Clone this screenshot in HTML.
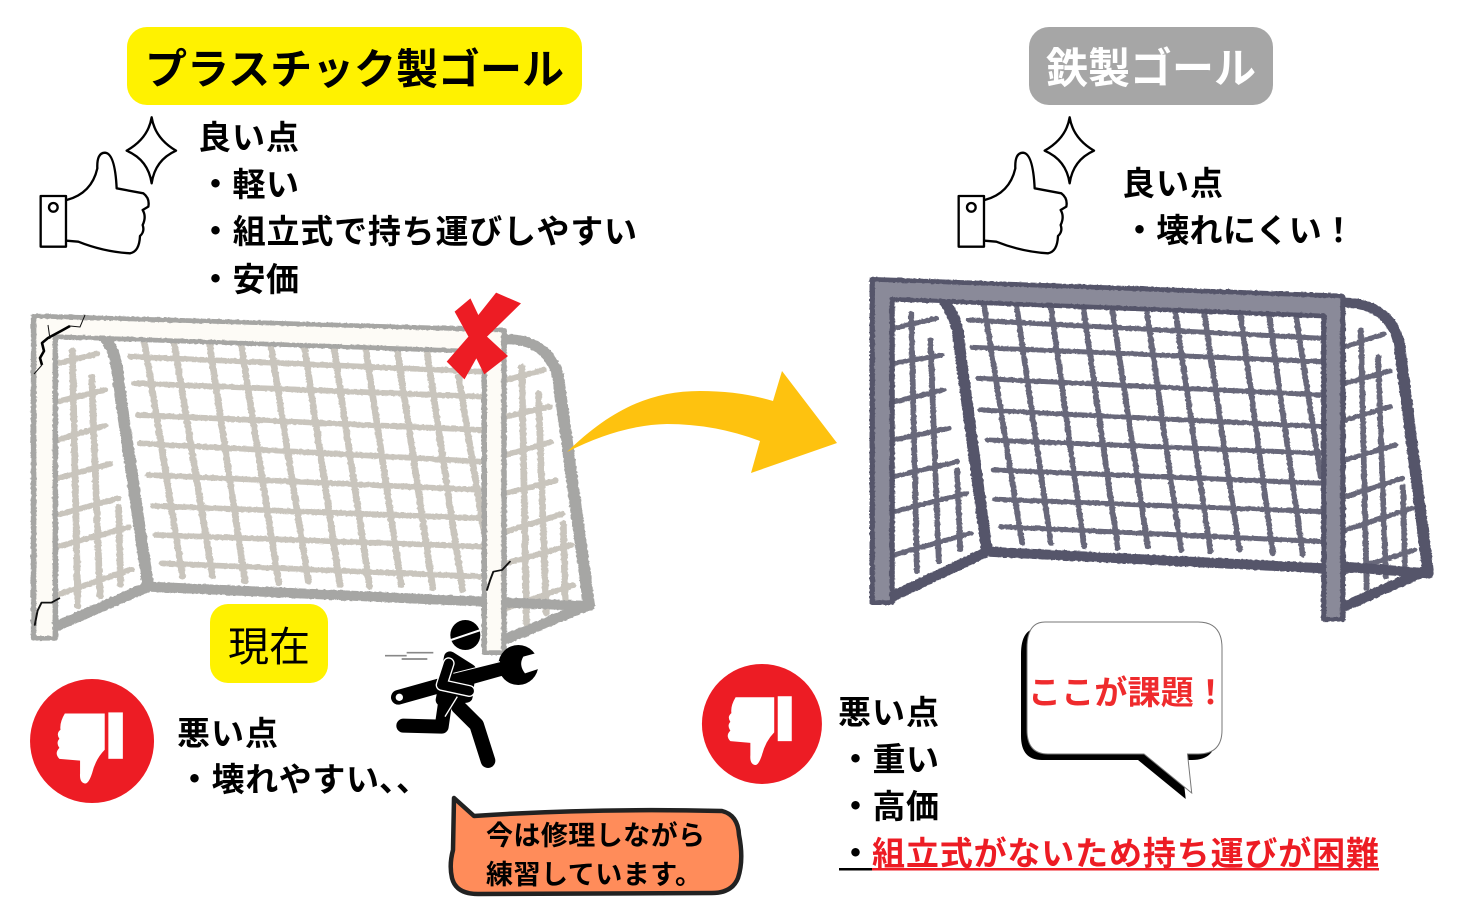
<!DOCTYPE html>
<html lang="ja"><head><meta charset="utf-8"><title>ゴール比較</title>
<style>
html,body{margin:0;padding:0;background:#fff}
svg{display:block}
text{font-family:"Liberation Sans","Noto Sans CJK JP",sans-serif;font-weight:700;fill:#000}
</style></head><body>
<svg width="1480" height="920" viewBox="0 0 1480 920" xmlns="http://www.w3.org/2000/svg">
<defs>
<filter id="rough" x="-5%" y="-5%" width="110%" height="110%">
<feTurbulence type="fractalNoise" baseFrequency=".12" numOctaves="2" seed="3" result="n"/>
<feDisplacementMap in="SourceGraphic" in2="n" scale="7" xChannelSelector="R" yChannelSelector="G"/>
</filter>
<g id="thumbup" fill="none" stroke="#000" stroke-width="7" stroke-linejoin="round">
<rect x="62" y="258" width="76" height="152" fill="#fff"/>
<circle cx="100" cy="292" r="13"/>
<path d="M140,270 Q215,250 232,175 Q230,128 255,128 Q285,130 290,235 L370,250 Q390,265 385,290 L368,300 Q380,320 368,345 Q375,365 360,378 Q358,425 330,430 Q250,425 175,395 L140,392"/>
<path d="M395,22 Q405,85 468,122 Q405,150 395,220 Q385,150 320,122 Q385,85 395,22Z"/>
</g>
<g id="thumbdown">
<circle cx="205" cy="341" r="171" fill="#ed1c24"/>
<rect x="250" y="262" width="40" height="128" fill="#fff"/>
<path d="M130,265 H240 V365 Q215,390 205,430 Q195,460 185,458 Q170,455 172,430 L172,395 L115,390 Q100,375 115,360 Q105,345 115,335 Q105,320 118,310 Q115,290 130,265Z" fill="#fff"/>
</g>
</defs>

<!-- titles -->
<rect x="127" y="27" width="455" height="78" rx="20" fill="#fff200"/>
<text x="145" y="84" font-size="42" textLength="419" lengthAdjust="spacing">プラスチック製ゴール</text>
<rect x="1029" y="27" width="244" height="78" rx="20" fill="#a6a6a6"/>
<text x="1046" y="83" font-size="42" textLength="210" lengthAdjust="spacing" style="fill:#fff">鉄製ゴール</text>

<!-- thumbs up -->
<g transform="translate(20,110) scale(.3333)"><use href="#thumbup"/></g>
<g transform="translate(938,110) scale(.3333)"><use href="#thumbup"/></g>

<!-- left text -->
<text x="198" y="149" font-size="33" textLength="101">良い点</text>
<text x="199" y="196" font-size="33" textLength="100">・軽い</text>
<text x="199" y="243" font-size="33" textLength="438">・組立式で持ち運びしやすい</text>
<text x="199" y="291" font-size="33" textLength="100">・安価</text>

<!-- left goal -->
<g transform="translate(0,280) scale(.3953,.3333)" fill="none" stroke-linecap="round" stroke-linejoin="round">
<g filter="url(#rough)">
<g stroke="#c9c5bd" stroke-width="17">
<path d="M330,230L1220,275M340,310L1220,350M350,405L1220,450M355,490L1220,545M375,585L1220,630M388,678L1220,715M395,765L1220,800M410,850L1220,890"/>
<path d="M365,185L462,890M440,185L538,890M530,190L620,905M610,195L705,910M685,195L780,905M770,200L860,915M845,205L935,920M925,205L1015,915M1005,210L1095,925M1080,215L1170,930M1160,290L1225,760"/>
<path d="M183,210L197,980M232,290L253,950M300,680L305,915M145,250L245,222M145,365L265,330M145,480L265,437M145,595L278,552M145,705L298,655M145,800L325,742M145,945L332,868"/>
<path d="M1320,260L1332,1030M1362,340L1382,1000M1425,730L1430,965M1280,300L1375,270M1280,410L1390,380M1280,525L1392,487M1280,640L1405,602M1280,755L1422,702M1280,850L1445,795M1280,985L1450,915"/>
</g>
<g stroke="#a6a6a4" stroke-width="30">
<path d="M1275,178 Q1385,175 1412,290 L1490,975 L1285,1075"/>
<path d="M1490,978 L1280,968"/>
<path d="M270,180 Q295,220 300,310 L375,920 L140,1040"/>
<path d="M375,920 L1225,965"/>
</g>
<path d="M85,108 L1275,150 L1275,1118 L1225,1118 L1225,215 L140,170 L140,1075 L85,1075Z" fill="#fdfbf6" stroke="#a6a6a4" stroke-width="14"/>
</g>
<path d="M150,955 L130,968 L105,968 L95,992 L88,1035" stroke="#111" stroke-width="5"/>
<path d="M1290,845 L1270,870 L1248,875 L1240,900 L1232,930" stroke="#111" stroke-width="5"/>
<!-- X -->
<path d="M1255,38 L1318,70 L1232,170 L1285,228 L1225,283 L1205,235 L1175,298 L1130,245 L1185,170 L1150,95 L1190,55 L1210,105Z" fill="#ed1c24" stroke="none"/>
</g>
<!-- top-left crack -->
<path d="M85,315 L80,327 L70,326" fill="none" stroke="#111" stroke-width="1"/>
<path d="M70,326 L61,331 L48,338 L42,343 L44,351 L40,358 L42,365" fill="none" stroke="#000" stroke-width="2.6" stroke-linejoin="round"/>
<path d="M42,365 L34,374 M48,325 L50,339" fill="none" stroke="#111" stroke-width="1"/>

<!-- arrow -->
<path d="M567,452 C610,410 650,391 700,391 Q740,391 773,401 L782,371 L837,443 L751,473 L760,441 Q715,424 667,424 Q620,425 567,452Z" fill="#fec20f"/>

<!-- right text top -->
<text x="1122" y="195" font-size="33" textLength="101">良い点</text>
<text x="1123" y="242" font-size="33" textLength="232">・壊れにくい！</text>

<!-- right goal -->
<g transform="translate(850,260) scale(.3827,.3333)" fill="none" stroke-linecap="round" stroke-linejoin="round">
<g filter="url(#rough)">
<g stroke="#67677a" stroke-width="15">
<path d="M310,180L1235,235M320,262L1235,305M335,355L1235,405M340,450L1235,500M360,540L1235,580M375,630L1235,670M380,718L1235,755M395,800L1235,845"/>
<path d="M350,135L450,850M435,135L525,850M525,140L612,860M610,145L700,865M685,145L778,860M775,150L865,870M850,155L942,875M925,155L1018,870M1020,160L1105,880M1095,165L1183,885M1165,165L1230,650"/>
<path d="M160,160L175,935M210,240L232,905M280,630L288,870M115,205L225,175M115,310L240,285M115,425L245,390M115,540L258,505M115,650L280,605M115,755L305,700M115,885L315,820"/>
<path d="M1335,210L1350,985M1380,290L1400,950M1445,680L1450,915M1295,260L1395,222M1295,370L1410,333M1295,480L1412,440M1295,600L1425,555M1295,710L1443,655M1295,810L1468,745M1295,935L1475,870"/>
</g>
<g stroke="#55556a" stroke-width="30">
<path d="M1290,128 Q1410,130 1435,250 L1510,930 L1290,1040"/>
<path d="M1510,940 L1290,920"/>
<path d="M250,130 Q285,190 285,250 L358,875 L110,1010"/>
<path d="M358,875 L1235,925"/>
</g>
<path d="M58,58 L1288,108 L1288,1078 L1238,1078 L1238,168 L110,118 L110,1028 L58,1028Z" fill="#8a8a99" stroke="#55556a" stroke-width="14"/>
</g>
</g>

<!-- 現在 -->
<rect x="210" y="604" width="118" height="79" rx="18" fill="#fff200"/>
<text x="228" y="661" font-size="41" textLength="82" style="font-weight:400">現在</text>

<!-- thumbs down -->
<g transform="translate(690,604.3) scale(.3509)"><use href="#thumbdown"/></g>
<g transform="translate(17.7,617.4) scale(.3626)"><use href="#thumbdown"/></g>

<text x="177" y="745" font-size="33" textLength="101">悪い点</text>
<text x="178" y="791" font-size="33" textLength="201">・壊れやすい</text>
<text y="791" font-size="33"><tspan x="379">、</tspan><tspan x="396">、</tspan></text>

<!-- worker -->
<g transform="translate(370,610) scale(.3333)">
<path d="M45,137H110M110,128H190M95,147H172" stroke="#888" stroke-width="5" fill="none"/>
<circle cx="286" cy="75" r="45" fill="#000"/>
<path d="M240,142 L300,180 L290,260 L215,270 Z" fill="#000" stroke="#000" stroke-width="36" stroke-linejoin="round"/>
<path d="M225,280 L215,350 L100,347" fill="none" stroke="#000" stroke-width="42" stroke-linecap="round" stroke-linejoin="round"/>
<path d="M265,290 L320,345 L354,452" fill="none" stroke="#000" stroke-width="44" stroke-linecap="round" stroke-linejoin="round"/>
<path d="M85,262 L430,165" stroke="#000" stroke-width="44" stroke-linecap="round"/>
<circle cx="445" cy="165" r="60" fill="#000"/>
<path d="M515,125 L460,140 Q445,165 465,190 L520,172 L530,150Z" fill="#fff"/>
<circle cx="88" cy="262" r="11" fill="#fff"/>
<path d="M236,160 L215,225 L298,243" fill="none" stroke="#fff" stroke-width="36" stroke-linecap="round" stroke-linejoin="round"/>
<path d="M236,160 L215,225 L298,243" fill="none" stroke="#000" stroke-width="28" stroke-linecap="round" stroke-linejoin="round"/>
<path d="M250,190 L390,155" stroke="#fff" stroke-width="3"/>
<path d="M243,90 L332,60" stroke="#fff" stroke-width="6"/>
<path d="M225,320 L262,260" stroke="#fff" stroke-width="4"/>
</g>

<!-- orange bubble -->
<path d="M454,798 L474,816 Q590,808 722,811 Q738,815 739,835 Q744,860 738,878 Q732,893 712,893 L478,894 Q456,894 452,878 Q449,865 453,850 Z" fill="#ff8c5a" stroke="#222" stroke-width="4.5" stroke-linejoin="round"/>
<text x="486" y="845" font-size="27" textLength="219">今は修理しながら</text>
<text x="486" y="884" font-size="27" textLength="216">練習しています。</text>

<!-- white bubble -->
<path d="M1045,622 H1198 Q1222,622 1222,648 V730 Q1222,754 1198,754 H1187.5 L1191.7,793 L1144,754 H1048 Q1027,754 1027,730 V648 Q1027,622 1045,622Z" fill="#000" transform="translate(-6,6)"/>
<path d="M1045,622 H1198 Q1222,622 1222,648 V730 Q1222,754 1198,754 H1187.5 L1191.7,793 L1144,754 H1048 Q1027,754 1027,730 V648 Q1027,622 1045,622Z" fill="#fff" stroke="#777" stroke-width="1"/>
<text x="1028" y="704" font-size="33" textLength="199" style="fill:#ef2b2d">ここが課題！</text>

<!-- right text bottom -->
<text x="838" y="724" font-size="33" textLength="101">悪い点</text>
<text x="839" y="771" font-size="33" textLength="100">・重い</text>
<text x="839" y="818" font-size="33" textLength="100">・高価</text>
<text x="839" y="865" font-size="33">・</text>
<text x="872" y="865" font-size="33" textLength="507" style="fill:#ed1c24">組立式がないため持ち運びが困難</text>
<rect x="839" y="868" width="33" height="2.5" fill="#000"/>
<rect x="872" y="868" width="507" height="2.5" fill="#ed1c24"/>
</svg>
</body></html>
